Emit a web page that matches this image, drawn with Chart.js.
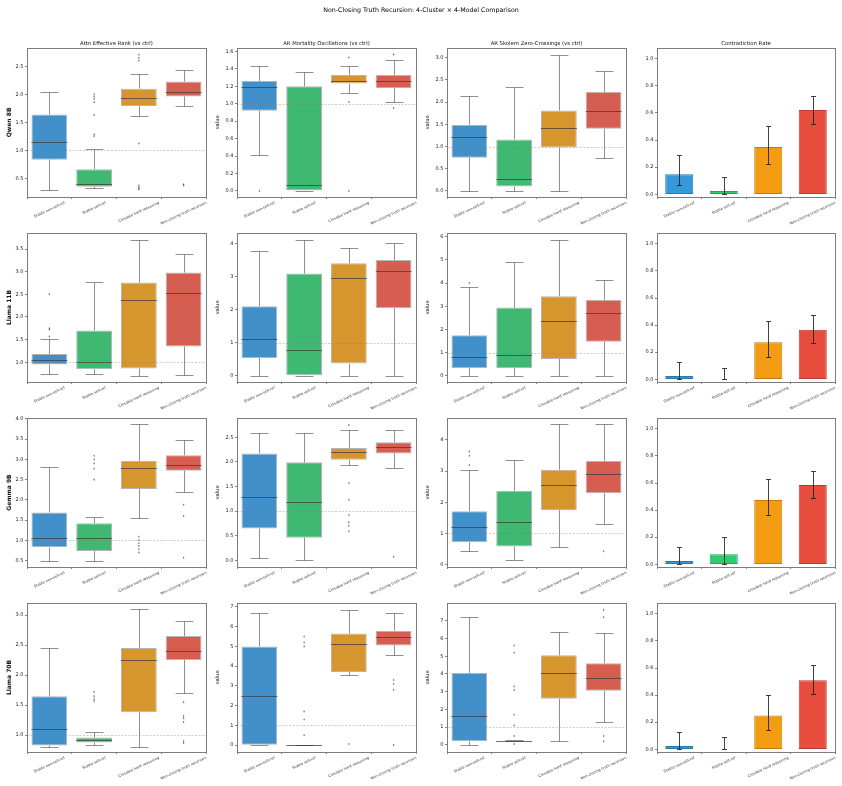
<!DOCTYPE html>
<html>
<head>
<meta charset="utf-8">
<script src="https://cdn.jsdelivr.net/npm/chart.js@4.4.1/dist/chart.umd.min.js"></script>
<style>
  html, body { margin: 0; padding: 0; background: #fff; }
  #fig { position: relative; width: 842px; height: 786px; overflow: hidden; background: #fff; font-family: "DejaVu Sans", sans-serif; }
  #fig canvas { position: absolute; }
  #suptitle { position: absolute; left: 0; top: 6px; width: 842px; text-align: center; font-size: 6.3px; color: #000; will-change: transform; }
</style>
</head>
<body>
<div id="fig"><div id="suptitle">Non-Closing Truth Recursion: 4-Cluster × 4-Model Comparison</div></div>
<script>
/* 4x4 grid: three boxplot metrics + contradiction-rate bars per model. */
'use strict';

const CATEGORIES = ['Stable non-self-ref', 'Stable self-ref', 'Closable hard reasoning', 'Non-closing truth recursion'];
const MODELS = ['Qwen 8B', 'Llama 11B', 'Gemma 9B', 'Llama 70B'];
const METRICS = ['Attn Effective Rank (vs ctrl)', 'AR Mortality Oscillations (vs ctrl)', 'AR Skolem Zero-Crossings (vs ctrl)', 'Contradiction Rate'];

// box stats per category: [low whisker, q1, median, q3, high whisker]
const qwenRank = [[0.29, 0.83, 1.14, 1.64, 2.04], [0.32, 0.35, 0.39, 0.66, 1.02], [1.62, 1.79, 1.93, 2.10, 2.36], [1.80, 1.96, 2.05, 2.23, 2.43]];
const qwenRankOut = [[], [2.00, 1.96, 1.92, 1.86, 1.63, 1.28, 1.25], [2.71, 2.65, 2.60, 1.12, 0.37, 0.34, 0.32, 0.30], [0.39, 0.37]];
const qwenMort = [[0.41, 0.92, 1.19, 1.26, 1.43], [0.0, 0.0, 0.07, 1.20, 1.36], [1.12, 1.23, 1.26, 1.33, 1.43], [1.02, 1.18, 1.26, 1.33, 1.50]];
const qwenMortOut = [[0.0], [], [1.53, 1.02, 0.0], [1.565, 0.95]];
const qwenSkolem = [[0.0, 0.75, 1.21, 1.49, 2.13], [0.0, 0.10, 0.28, 1.16, 2.33], [0.0, 0.98, 1.41, 1.81, 3.06], [0.75, 1.40, 1.81, 2.23, 2.69]];
const qwenSkolemOut = [[], [], [], []];
const qwenRate = [0.148, 0.025, 0.348, 0.622];
const qwenRateErr = [[0.07, 0.29], [0.005, 0.128], [0.222, 0.504], [0.516, 0.723]];

const llama11Rank = [[0.73, 0.95, 1.04, 1.18, 1.52], [0.73, 0.845, 1.0, 1.70, 2.78], [0.70, 0.86, 2.37, 2.76, 3.70], [0.72, 1.35, 2.54, 2.98, 3.40]];
const llama11RankOut = [[2.51, 1.75, 1.72, 1.57], [], [], []];
const llama11Mort = [[0, 0.54, 1.10, 2.11, 3.78], [0, 0, 0.79, 3.10, 4.12], [0, 0.37, 2.98, 3.41, 3.87], [0, 2.05, 3.17, 3.51, 4.04]];
const llama11MortOut = [[], [], [], []];
const llama11Skolem = [[0, 0.33, 0.80, 1.75, 3.82], [0, 0.33, 0.88, 2.94, 4.90], [0, 0.72, 2.37, 3.43, 5.87], [0, 1.47, 2.69, 3.28, 4.12]];
const llama11SkolemOut = [[4.0], [], [], []];
const llama11Rate = [0.025, 0.0, 0.274, 0.365];
const llama11RateErr = [[0.005, 0.128], [0.0, 0.086], [0.163, 0.43], [0.267, 0.474]];

const gemmaRank = [[0.50, 0.83, 1.07, 1.69, 2.82], [0.50, 0.74, 1.07, 1.42, 1.57], [1.54, 2.27, 2.78, 2.96, 3.86], [2.20, 2.72, 2.86, 3.10, 3.47]];
const gemmaRankOut = [[], [3.09, 3.00, 2.90, 2.77, 2.50], [1.09, 1.01, 0.93, 0.86, 0.78, 0.70], [1.88, 1.60, 0.57]];
const gemmaMort = [[0.055, 0.645, 1.29, 2.17, 2.58], [0.0, 0.46, 1.175, 1.99, 2.58], [1.93, 2.04, 2.19, 2.28, 2.64], [1.88, 2.17, 2.30, 2.40, 2.64]];
const gemmaMortOut = [[], [], [2.75, 1.57, 1.23, 0.92, 0.77, 0.70, 0.59], [0.07]];
const gemmaSkolem = [[0.43, 0.72, 1.21, 1.71, 3.04], [0.14, 0.58, 1.38, 2.36, 3.34], [0.58, 1.75, 2.54, 3.04, 4.50], [1.30, 2.29, 2.89, 3.32, 4.50]];
const gemmaSkolemOut = [[3.63, 3.49, 3.19], [], [], [0.43]];
const gemmaRate = [0.025, 0.075, 0.475, 0.585];
const gemmaRateErr = [[0.005, 0.13], [0.0, 0.2], [0.365, 0.63], [0.49, 0.69]];

const llama70Rank = [[0.80, 0.83, 1.10, 1.65, 2.45], [0.83, 0.88, 0.92, 0.96, 1.05], [0.80, 1.38, 2.25, 2.45, 3.10], [1.70, 2.25, 2.40, 2.65, 2.90]];
const llama70RankOut = [[], [1.72, 1.65, 1.60, 1.57], [], [1.55, 1.32, 1.28, 1.22, 0.90, 0.87]];
const llama70Mort = [[0, 0, 2.5, 5.0, 6.7], [0, 0, 0, 0, 0], [3.55, 3.7, 5.1, 5.65, 6.85], [4.55, 5.05, 5.5, 5.8, 6.7]];
const llama70MortOut = [[], [5.5, 5.2, 5.0, 1.7, 1.3, 0.5], [0.05], [3.3, 3.1, 2.8, 0.0]];
const llama70Skolem = [[0, 0.2, 1.65, 4.05, 7.2], [0.2, 0.2, 0.2, 0.2, 0.25], [0.2, 2.6, 4.05, 5.05, 6.35], [1.3, 3.05, 3.75, 4.6, 6.3]];
const llama70SkolemOut = [[], [5.6, 5.2, 3.3, 3.1, 1.7, 1.1, 0.5, 0.05], [], [7.6, 7.2, 0.5, 0.2]];
const llama70Rate = [0.025, 0.0, 0.25, 0.51];
const llama70RateErr = [[0.005, 0.13], [0.0, 0.09], [0.14, 0.40], [0.41, 0.62]];

// y tick labels per panel
const TICKS_05_25 = [0.5, 1.0, 1.5, 2.0, 2.5];
const TICKS_0_16 = [0, 0.2, 0.4, 0.6, 0.8, 1.0, 1.2, 1.4, 1.6];
const TICKS_0_3 = [0, 0.5, 1.0, 1.5, 2.0, 2.5, 3.0];
const TICKS_1_35 = [1.0, 1.5, 2.0, 2.5, 3.0, 3.5];
const TICKS_INT4 = [0, 1, 2, 3, 4];
const TICKS_INT6 = [0, 1, 2, 3, 4, 5, 6];
const TICKS_05_4 = [0.5, 1.0, 1.5, 2.0, 2.5, 3.0, 3.5, 4.0];
const TICKS_0_25 = [0, 0.5, 1.0, 1.5, 2.0, 2.5];
const TICKS_1_3 = [1.0, 1.5, 2.0, 2.5, 3.0];
const TICKS_INT7 = [0, 1, 2, 3, 4, 5, 6, 7];
const TICKS_RATE = [0, 0.2, 0.4, 0.6, 0.8, 1.0];

const ROWS = [
  { box: [[qwenRank, qwenRankOut], [qwenMort, qwenMortOut], [qwenSkolem, qwenSkolemOut]], rate: qwenRate, err: qwenRateErr,
    y: [[0.165, 2.83, TICKS_05_25, 1], [-0.07, 1.64, TICKS_0_16, 1], [-0.136, 3.22, TICKS_0_3, 1]] },
  { box: [[llama11Rank, llama11RankOut], [llama11Mort, llama11MortOut], [llama11Skolem, llama11SkolemOut]], rate: llama11Rate, err: llama11RateErr,
    y: [[0.564, 3.855, TICKS_1_35, 1], [-0.19, 4.33, TICKS_INT4, 0], [-0.27, 6.16, TICKS_INT6, 0]] },
  { box: [[gemmaRank, gemmaRankOut], [gemmaMort, gemmaMortOut], [gemmaSkolem, gemmaSkolemOut]], rate: gemmaRate, err: gemmaRateErr,
    y: [[0.343, 4.02, TICKS_05_4, 1], [-0.136, 2.89, TICKS_0_25, 1], [-0.075, 4.70, TICKS_INT4, 0]] },
  { box: [[llama70Rank, llama70RankOut], [llama70Mort, llama70MortOut], [llama70Skolem, llama70SkolemOut]], rate: llama70Rate, err: llama70RateErr,
    y: [[0.72, 3.2, TICKS_1_3, 1], [-0.35, 7.2, TICKS_INT7, 0], [-0.4, 8.0, TICKS_INT7, 0]] },
];
const RATE_Y = [-0.02, 1.08, TICKS_RATE, 1];

// ─── layout / style ───
const COL_X = [27, 237, 447, 657];
const COL_W = [179, 179, 179, 178];
const ROW_Y = [48, 233, 418, 603];
const AX_H = 149;
const Y_W = [21, 22, 22, 22];
const X_H = 34;
const XLBL_ROT = 25 * Math.PI / 180;
const XLBL_SIZE = 3.7;
const BOX_FILL = ['#4190c9', '#3fb872', '#d7952d', '#d55e51'];
const BAR_FILL = ['#3498db', '#2ecc71', '#f39c12', '#e74c3c'];
const BAR_EDGE = ['#2a77ab', '#25a35a', '#c27c0e', '#b93c30'];
const LINE = 'rgba(70,70,70,0.6)';

Chart.defaults.font.family = '"DejaVu Sans", sans-serif';
Chart.defaults.color = '#222';

const crisp = (v) => Math.round(v) + 0.5;
function seg(ctx, x1, y1, x2, y2) { ctx.beginPath(); ctx.moveTo(x1, y1); ctx.lineTo(x2, y2); ctx.stroke(); }

// frame, y=1 reference line and centred rotated category labels (matplotlib style)
function framePlugin(refLine) {
  return {
    id: 'frame',
    afterDatasetsDraw(chart) {
      const { ctx, chartArea: a, scales: { y } } = chart;
      ctx.save();
      if (refLine) {
        ctx.strokeStyle = 'rgba(128,128,128,0.5)';
        ctx.lineWidth = 0.8;
        ctx.setLineDash([2, 1.5]);
        const yy = crisp(y.getPixelForValue(1.0));
        seg(ctx, a.left, yy, a.right, yy);
        ctx.setLineDash([]);
      }
      ctx.strokeStyle = '#7c7c7c';
      ctx.lineWidth = 1;
      ctx.strokeRect(crisp(a.left), crisp(a.top), Math.round(a.right - a.left), Math.round(a.bottom - a.top));
      ctx.restore();
    },
    afterDraw(chart) {
      const { ctx, chartArea: a, scales: { x } } = chart;
      ctx.save();
      ctx.font = XLBL_SIZE + 'px "DejaVu Sans", sans-serif';
      ctx.fillStyle = '#333';
      ctx.textAlign = 'center';
      ctx.textBaseline = 'middle';
      x.ticks.forEach((t, i) => {
        const label = CATEGORIES[i];
        const w = ctx.measureText(label).width;
        const bh = w * Math.sin(XLBL_ROT) + XLBL_SIZE * Math.cos(XLBL_ROT);
        ctx.save();
        ctx.translate(x.getPixelForTick(i), a.bottom + 4 + bh / 2);
        ctx.rotate(-XLBL_ROT);
        ctx.fillText(label, 0, 0);
        ctx.restore();
      });
      ctx.restore();
    },
  };
}

function boxPlugin(stats, outs) {
  return {
    id: 'boxExtras',
    beforeDatasetsDraw(chart) {
      const { ctx, scales: { x, y } } = chart;
      const meta = chart.getDatasetMeta(0);
      ctx.save();
      ctx.strokeStyle = LINE;
      ctx.lineWidth = 1;
      stats.forEach((s, i) => {
        const cx = crisp(x.getPixelForValue(i));
        const cap = meta.data[i].width / 4;
        const lo = crisp(y.getPixelForValue(s[0])), q1 = y.getPixelForValue(s[1]);
        const q3 = y.getPixelForValue(s[3]), hi = crisp(y.getPixelForValue(s[4]));
        seg(ctx, cx, lo, cx, q1);
        seg(ctx, cx, q3, cx, hi);
        seg(ctx, cx - cap, lo, cx + cap, lo);
        seg(ctx, cx - cap, hi, cx + cap, hi);
      });
      ctx.restore();
    },
    afterDatasetsDraw(chart) {
      const { ctx, scales: { x, y } } = chart;
      const meta = chart.getDatasetMeta(0);
      ctx.save();
      stats.forEach((s, i) => {
        const cx = x.getPixelForValue(i);
        const half = meta.data[i].width / 2;
        ctx.strokeStyle = 'rgba(60,60,60,0.75)';
        ctx.lineWidth = 1;
        const my = crisp(y.getPixelForValue(s[2]));
        seg(ctx, cx - half, my, cx + half, my);
        ctx.fillStyle = 'rgba(70,70,70,0.75)';
        (outs[i] || []).forEach((v) => {
          const py = y.getPixelForValue(v);
          ctx.beginPath();
          ctx.moveTo(cx, py - 1.3); ctx.lineTo(cx + 0.8, py); ctx.lineTo(cx, py + 1.3); ctx.lineTo(cx - 0.8, py);
          ctx.closePath(); ctx.fill();
        });
      });
      ctx.restore();
    },
  };
}

function errPlugin(errs) {
  return {
    id: 'errBars',
    afterDatasetsDraw(chart) {
      const { ctx, scales: { x, y } } = chart;
      ctx.save();
      ctx.strokeStyle = 'rgba(30,30,30,0.85)';
      ctx.lineWidth = 1;
      errs.forEach((e, i) => {
        const cx = crisp(x.getPixelForValue(i));
        const lo = crisp(y.getPixelForValue(e[0])), hi = crisp(y.getPixelForValue(e[1]));
        seg(ctx, cx, lo, cx, hi);
        seg(ctx, cx - 2.5, lo, cx + 2.5, lo);
        seg(ctx, cx - 2.5, hi, cx + 2.5, hi);
      });
      ctx.restore();
    },
  };
}

function scalesFor(col, row, yCfg) {
  const [min, max, ticks, dec] = yCfg;
  const ytitle = col === 0 ? MODELS[row] : (col < 3 ? 'value' : '');
  return {
    x: {
      type: 'category',
      labels: CATEGORIES,
      offset: true,
      grid: { display: true, drawOnChartArea: false, drawTicks: true, tickLength: 2, color: '#666', lineWidth: 0.8 },
      border: { display: false },
      ticks: { display: false, autoSkip: false },
      afterFit: (s) => { s.height = X_H; s.paddingLeft = 0; s.paddingRight = 0; },
    },
    y: {
      type: 'linear',
      min, max,
      grid: { display: true, drawOnChartArea: false, drawTicks: true, tickLength: 2, color: '#666', lineWidth: 0.8 },
      border: { display: false },
      ticks: { padding: 1.5, font: { size: 5 }, color: '#222', callback: (v) => Number(v).toFixed(dec) },
      afterBuildTicks: (s) => { s.ticks = ticks.map((v) => ({ value: v })); },
      afterFit: (s) => { s.width = Y_W[col]; s.paddingTop = 0; s.paddingBottom = 0; },
      title: {
        display: ytitle !== '',
        text: ytitle,
        color: '#111',
        padding: { top: 0, bottom: 0 },
        font: { size: col === 0 ? 6 : 5.2, weight: col === 0 ? 'bold' : 'normal' },
      },
    },
  };
}

function buildChart(cv, W, H, row, col) {
  cv.width = W; cv.height = H;
  cv.style.width = W + 'px'; cv.style.height = H + 'px';
  const r = ROWS[row];
  let datasets, plugins, yCfg;
  if (col < 3) {
    const [stats, outs] = r.box[col];
    yCfg = r.y[col];
    datasets = [{
      data: stats.map((s) => [s[1], s[3]]),
      backgroundColor: BOX_FILL,
      borderColor: 'rgba(90,90,90,0.45)',
      borderWidth: 1,
      borderSkipped: false,
      barPercentage: 0.8,
      categoryPercentage: 1,
    }];
    plugins = [boxPlugin(stats, outs), framePlugin(true)];
  } else {
    yCfg = RATE_Y;
    datasets = [{
      data: r.rate,
      backgroundColor: BAR_FILL,
      borderColor: BAR_EDGE,
      borderWidth: 1,
      borderSkipped: false,
      barPercentage: 0.63,
      categoryPercentage: 1,
    }];
    plugins = [errPlugin(r.err), framePlugin(false)];
  }
  return new Chart(cv.getContext('2d'), {
    type: 'bar',
    data: { labels: CATEGORIES, datasets },
    options: {
      responsive: false,
      animation: false,
      devicePixelRatio: 1,
      layout: { padding: { top: row === 0 ? 1 : 6, right: 4, left: 0, bottom: 0 } },
      scales: scalesFor(col, row, yCfg),
      plugins: {
        legend: { display: false },
        tooltip: { enabled: false },
        title: {
          display: row === 0,
          text: METRICS[col],
          fullSize: false,
          color: '#111',
          font: { size: 5.3, weight: 'normal' },
          padding: { top: 0, bottom: 1.5 },
        },
      },
    },
    plugins,
  });
}

function makePanel(row, col) {
  const fig = document.getElementById('fig');
  const cv = document.createElement('canvas');
  fig.appendChild(cv);
  let W = Y_W[col] + COL_W[col] + 4;
  let H = 10 + AX_H + X_H;
  let chart = buildChart(cv, W, H, row, col);
  let a = chart.chartArea;
  // keep the plot box at its grid slot
  const dw = Math.round(COL_W[col] - (a.right - a.left));
  const dh = Math.round(AX_H - (a.bottom - a.top));
  if (dw !== 0 || dh !== 0) {
    chart.destroy();
    W += dw; H += dh;
    chart = buildChart(cv, W, H, row, col);
    a = chart.chartArea;
  }
  cv.style.left = Math.round(COL_X[col] - a.left) + 'px';
  cv.style.top = Math.round(ROW_Y[row] - a.top) + 'px';
}

for (let row = 0; row < 4; row++) {
  for (let col = 0; col < 4; col++) makePanel(row, col);
}
</script>
</body>
</html>
